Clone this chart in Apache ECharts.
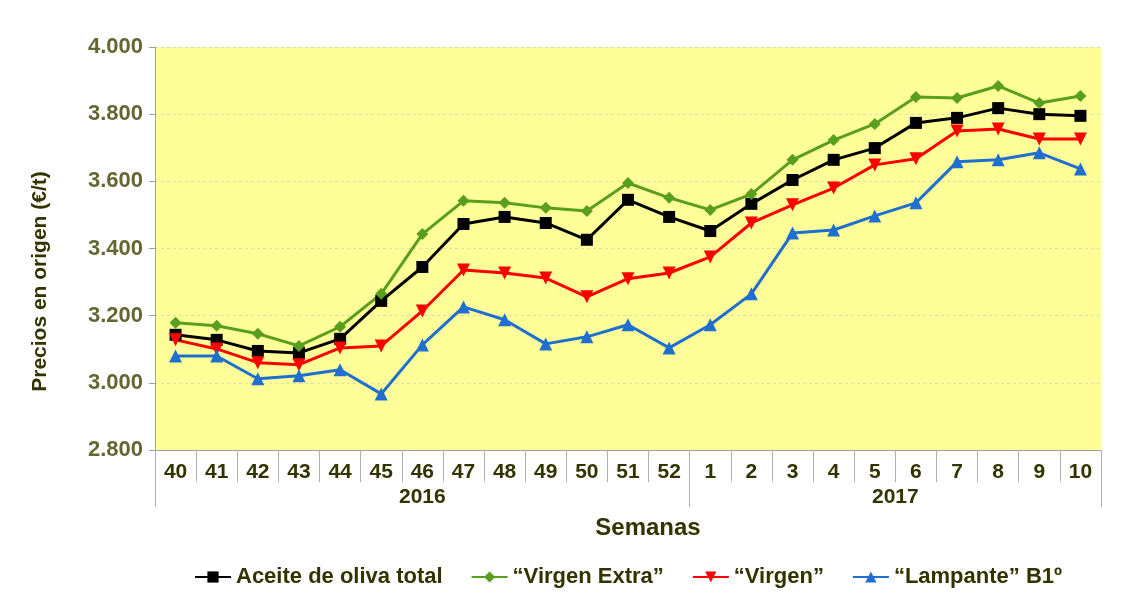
<!DOCTYPE html>
<html>
<head>
<meta charset="utf-8">
<script src="https://cdn.jsdelivr.net/npm/echarts@6/dist/echarts.min.js"></script>
<style>
html,body{margin:0;padding:0;background:#fff;}
#chart{width:1130px;height:596px;}
</style>
</head>
<body>
<div id="chart"></div>
<script>
var weeks = ['40','41','42','43','44','45','46','47','48','49','50','51','52','1','2','3','4','5','6','7','8','9','10'];
var years = ['2016','2017'];
var yearWeekCounts = [13, 10];
var yTicks = [2800, 3000, 3200, 3400, 3600, 3800, 4000];

var seriesNames = ['Aceite de oliva total', '\u201cVirgen Extra\u201d', '\u201cVirgen\u201d', '\u201cLampante\u201d B1\u00ba'];
var total = [3143,3128,3095,3089,3131,3244,3345,3473,3494,3476,3426,3545,3494,3452,3533,3604,3664,3699,3774,3789,3818,3800,3795];
var virgenExtra = [3179,3170,3146,3110,3167,3265,3443,3542,3536,3521,3512,3595,3551,3515,3562,3664,3723,3771,3851,3848,3884,3833,3854];
var virgen = [3128,3101,3060,3054,3104,3110,3214,3336,3327,3312,3256,3310,3327,3375,3476,3530,3580,3649,3667,3750,3756,3726,3726];
var lampante = [3080,3080,3012,3021,3039,2967,3113,3226,3188,3116,3137,3173,3104,3173,3265,3446,3455,3497,3536,3658,3664,3685,3637];

// year group boundaries and centres (in category units)
var bounds = [0], centres = [];
(function(){ var acc = 0; for (var i = 0; i < yearWeekCounts.length; i++) { centres.push(acc + yearWeekCounts[i] / 2); acc += yearWeekCounts[i]; bounds.push(acc); } })();

var chart = echarts.init(document.getElementById('chart'));
var labelColor = '#333300';
var font = '"Liberation Sans", Arial, sans-serif';

function fmt(v){ var s = String(v); return s.length > 3 ? s.slice(0, s.length-3) + '.' + s.slice(-3) : s; }

function mk(name, data, color, symbol, size, rot){
  return {
    name: name, type: 'line', data: data, xAxisIndex: 0,
    symbol: symbol, symbolSize: size, symbolRotate: rot || 0,
    showAllSymbol: true,
    lineStyle: {color: color, width: 3},
    itemStyle: {color: color},
    z: 3
  };
}

chart.setOption({
  animation: false,
  backgroundColor: '#ffffff',
  grid: {left: 155, right: 29, top: 47, bottom: 146, show: true, backgroundColor: '#ffff99', borderWidth: 0},
  legend: {
    left: 189, top: 561, itemGap: 28, itemWidth: 36, itemHeight: 14,
    textStyle: {fontFamily: font, fontWeight: 'bold', fontSize: 22, color: labelColor},
    data: seriesNames
  },
  xAxis: [{
    type: 'category', data: weeks, boundaryGap: true, position: 'bottom',
    axisLine: {lineStyle: {color: '#a0a0a0', width: 1}},
    axisTick: {show: true, interval: 0, length: 32, lineStyle: {color: '#b0b0b0'}},
    axisLabel: {interval: 0, margin: 12, fontFamily: font, fontWeight: 'bold', fontSize: 21, color: labelColor},
    splitLine: {show: false}
  }, {
    type: 'value', min: 0, max: weeks.length, position: 'bottom', offset: 32,
    axisLine: {show: false},
    axisTick: {show: true, customValues: bounds, length: 25, lineStyle: {color: '#b0b0b0'}},
    axisLabel: {customValues: centres, margin: 5, fontFamily: font, fontWeight: 'bold', fontSize: 21, color: labelColor,
      formatter: function(v){ var i = centres.indexOf(v); return i >= 0 ? years[i] : ''; }},
    splitLine: {show: false},
    name: 'Semanas', nameLocation: 'middle', nameGap: 34,
    nameTextStyle: {fontFamily: font, fontWeight: 'bold', fontSize: 24, color: labelColor, padding: [0, 0, 0, 40]}
  }],
  yAxis: {
    type: 'value', min: yTicks[0], max: yTicks[yTicks.length-1], interval: 200,
    axisLine: {show: true, lineStyle: {color: '#a0a0a0'}},
    axisTick: {show: true, length: 6, lineStyle: {color: '#a0a0a0'}},
    axisLabel: {margin: 12, fontFamily: font, fontWeight: 'bold', fontSize: 22, color: '#666633', formatter: fmt},
    splitLine: {show: true, lineStyle: {color: '#dcdcb0', type: [3,3], width: 1}},
    name: 'Precios en origen (\u20ac/t)', nameLocation: 'middle', nameRotate: 90, nameGap: 104,
    nameTextStyle: {fontFamily: font, fontWeight: 'bold', fontSize: 21, color: labelColor, padding: [0, 66, 0, 0]}
  },
  series: [
    mk(seriesNames[0], total, '#000000', 'rect', 12),
    mk(seriesNames[1], virgenExtra, '#5a9e1e', 'diamond', 12),
    mk(seriesNames[2], virgen, '#ff0000', 'triangle', 13, 180),
    mk(seriesNames[3], lampante, '#1e6fcf', 'triangle', 13)
  ]
});
</script>
</body>
</html>
